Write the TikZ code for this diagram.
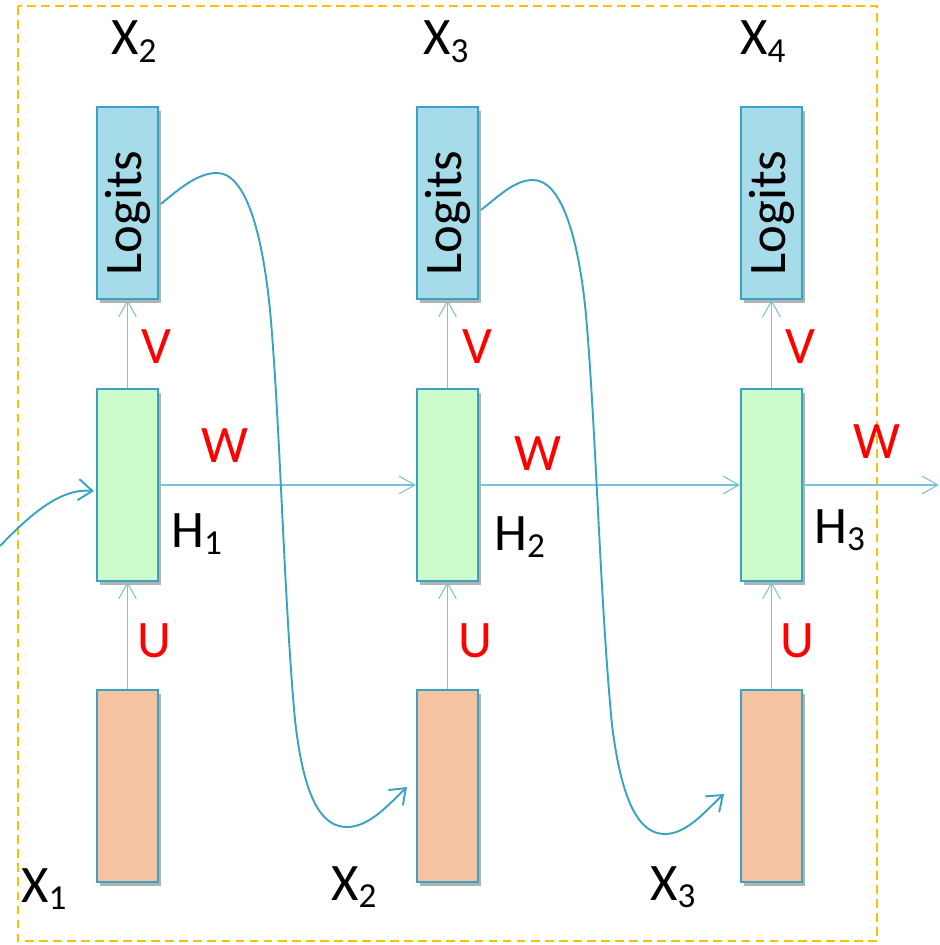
\documentclass[tikz,border=0pt]{standalone}
\usepackage{fontspec}
\setmainfont{Carlito}
\usepackage{tikz}
\usetikzlibrary{positioning}
\usetikzlibrary{calc}
\usetikzlibrary{arrows.meta}
\usetikzlibrary{shadows}

\definecolor{rnnline}{RGB}{58,163,192}
\definecolor{rnnthin}{RGB}{120,195,215}
\definecolor{logitfill}{RGB}{166,220,234}
\definecolor{hidfill}{RGB}{204,252,204}
\definecolor{infill}{RGB}{244,195,164}
\definecolor{frameorange}{RGB}{255,192,0}

\newcommand{\lsub}[1]{\raisebox{-4.5pt}{\fontsize{20}{24}\selectfont #1}}

\tikzset{
  rnnbox/.style={draw=rnnline, line width=1.1pt, rectangle, inner sep=0pt,
    minimum width=1.22cm, minimum height=3.84cm,
    drop shadow={shadow xshift=1.5pt, shadow yshift=-2.5pt, fill=black, opacity=.3}},
  logitbox/.style={rnnbox, fill=logitfill},
  hidbox/.style={rnnbox, fill=hidfill},
  inbox/.style={rnnbox, fill=infill},
  thinarrow/.style={draw=rnnthin, line width=0.6pt, -{Straight Barb[length=9pt, width=10pt]}},
  curvearrow/.style={draw=rnnline, line width=1.1pt, -{Straight Barb[length=8pt, width=12pt]}},
  txtlabel/.style={inner sep=0pt, anchor=base west, font=\fontsize{30}{36}\selectfont},
  redlabel/.style={inner sep=0pt, anchor=base, text=red, font=\fontsize{30}{36}\selectfont}
}

\begin{document}
\begin{tikzpicture}[x=0.02cm, y=-0.02cm]
		\useasboundingbox (0,0) rectangle (939,945);
		
		% outer frame
		\draw [frameorange, line width=1.1pt, dash pattern=on 5pt off 3pt] (18,6) rectangle (877,941);
		
		% the three time steps
		\foreach \i/\cx in {1/127.5, 2/447.5, 3/771.5} {
			\node at (\cx,203) [logitbox] (logit\i) {\fontsize{30}{36}\selectfont\rotatebox{90}{Logits\hspace{0.4cm}}};
			\node at (\cx,485) [hidbox] (hid\i) {};
			\node at (\cx,786) [inbox] (inp\i) {};
			\draw [thinarrow] (inp\i) -- (hid\i);
			\draw [thinarrow] (hid\i) -- (logit\i);
		}
		
		% recurrent connections
		\coordinate (inL) at (0,546);
		\coordinate (outR) at (939,485);
		\draw [curvearrow] (inL) .. controls (30,515) and (60,488) .. ($(hid1.west)+(-2,6)$);
		\draw [thinarrow] (hid1) -- (hid2);
		\draw [thinarrow] (hid2) -- (hid3);
		\draw [thinarrow] (hid3) -- (outR);
		
		% sampled output fed back as next input
		\draw [curvearrow] ($(logit1.east)+(2,1)$) .. controls (180,188) and (198,173) .. (217,173)
			.. controls (245,173) and (262,230) .. (270,310)
			.. controls (280,420) and (284,600) .. (295,720)
			.. controls (304,800) and (322,827) .. (347,827)
			.. controls (370,827) and (390,803) .. ($(inp2.west)+(-9,1)$);
		\draw [curvearrow] ($(logit2.east)+(2,7)$) .. controls (500,195) and (515,180) .. (533,180)
			.. controls (560,180) and (578,232) .. (586,315)
			.. controls (596,430) and (600,600) .. (612,725)
			.. controls (622,805) and (640,834) .. (665,834)
			.. controls (688,834) and (708,808) .. ($(inp3.west)+(-16,8)$);
		
		% labels
		\node at (111,55) [txtlabel] (top2) {X\lsub{2}};
		\node at (423,55) [txtlabel] (top3) {X\lsub{3}};
		\node at (740,55) [txtlabel] (top4) {X\lsub{4}};
		\node at (21,902) [txtlabel] (bot1) {X\lsub{1}};
		\node at (331,900) [txtlabel] (bot2) {X\lsub{2}};
		\node at (650,900) [txtlabel] (bot3) {X\lsub{3}};
		\node at (171,547) [txtlabel] (hl1) {H\lsub{1}};
		\node at (494,550) [txtlabel] (hl2) {H\lsub{2}};
		\node at (814,543) [txtlabel] (hl3) {H\lsub{3}};
		
		\node at (156,363) [redlabel] (v1) {V};
		\node at (477,363) [redlabel] (v2) {V};
		\node at (800,363) [redlabel] (v3) {V};
		\node at (225,462) [redlabel] (w1) {W};
		\node at (538,470) [redlabel] (w2) {W};
		\node at (877,458) [redlabel] (w3) {W};
		\node at (154,657) [redlabel] (u1) {U};
		\node at (475,657) [redlabel] (u2) {U};
		\node at (797,657) [redlabel] (u3) {U};
		
\end{tikzpicture}
\end{document}
